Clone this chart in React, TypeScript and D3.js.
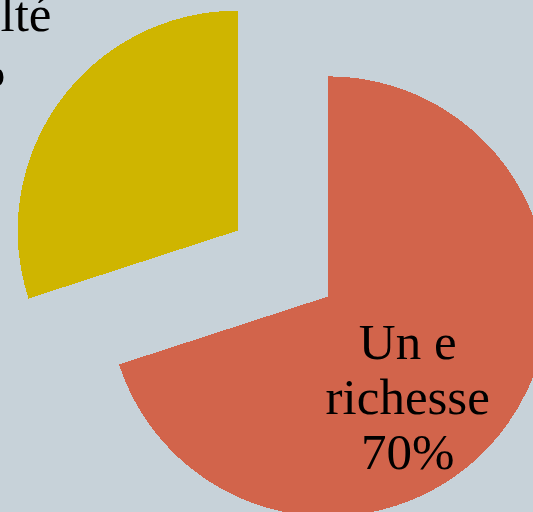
import React, { useEffect, useRef } from 'react';
import * as d3 from 'd3';

// Slice data (order = drawing order, clockwise from 12 o'clock)
const categories = ['Une richesse', 'Une difficulté'];
const values = [70, 30];
const labelLines = [
  ['Un e', 'richesse', '70%'],
  ['Une', 'difficulté', '30%'],
];
const colors = ['#d2644b', '#cfb500'];

export default function App() {
  const svgRef = useRef<SVGSVGElement>(null);

  useEffect(() => {
    const svg = d3.select(svgRef.current);
    svg.selectAll('*').remove();

    const width = 533;
    const height = 512;
    const cx = 283;
    const cy = 263.5;
    const radius = 220;
    const explode = 56;
    // label placement, relative to each slice's (exploded) centre
    const labelAngle = [146, 305.5];
    const labelRadius = [142, 343];
    const lineHeight = 55;

    svg.attr('width', width).attr('height', height)
      .attr('viewBox', `0 0 ${width} ${height}`);

    svg.append('rect')
      .attr('width', width)
      .attr('height', height)
      .attr('fill', '#c7d2d9');

    const data = categories.map((c, i) => ({ name: c, value: values[i], i }));

    const pie = d3.pie<any>()
      .sort(null)
      .value(d => d.value);

    const arc = d3.arc<any>()
      .innerRadius(0)
      .outerRadius(radius);

    const arcs = pie(data);

    const g = svg.append('g')
      .attr('transform', `translate(${cx},${cy})`);

    const slice = g.selectAll('g.slice')
      .data(arcs)
      .join('g')
      .attr('class', 'slice')
      .attr('transform', d => {
        const mid = (d.startAngle + d.endAngle) / 2;
        return `translate(${Math.sin(mid) * explode},${-Math.cos(mid) * explode})`;
      });

    slice.append('path')
      .attr('d', arc)
      .attr('fill', d => colors[d.data.i])
      .attr('shape-rendering', 'crispEdges');

    slice.each(function (d) {
      const i = d.data.i;
      const a = (labelAngle[i] * Math.PI) / 180;
      const lx = Math.sin(a) * labelRadius[i];
      const ly = -Math.cos(a) * labelRadius[i];
      const lines = labelLines[i];
      const t = d3.select(this).append('text')
        .attr('text-anchor', 'middle')
        .attr('font-family', '"Liberation Serif", "DejaVu Serif", serif')
        .attr('font-size', 51)
        .attr('fill', '#000');
      lines.forEach((line, k) => {
        t.append('tspan')
          .attr('x', lx)
          .attr('y', ly + (k - 1) * lineHeight)
          .text(line);
      });
    });
  }, []);

  return (
    <svg
      ref={svgRef}
      style={{ position: 'absolute', left: 0, top: 0, display: 'block' }}
    />
  );
}
